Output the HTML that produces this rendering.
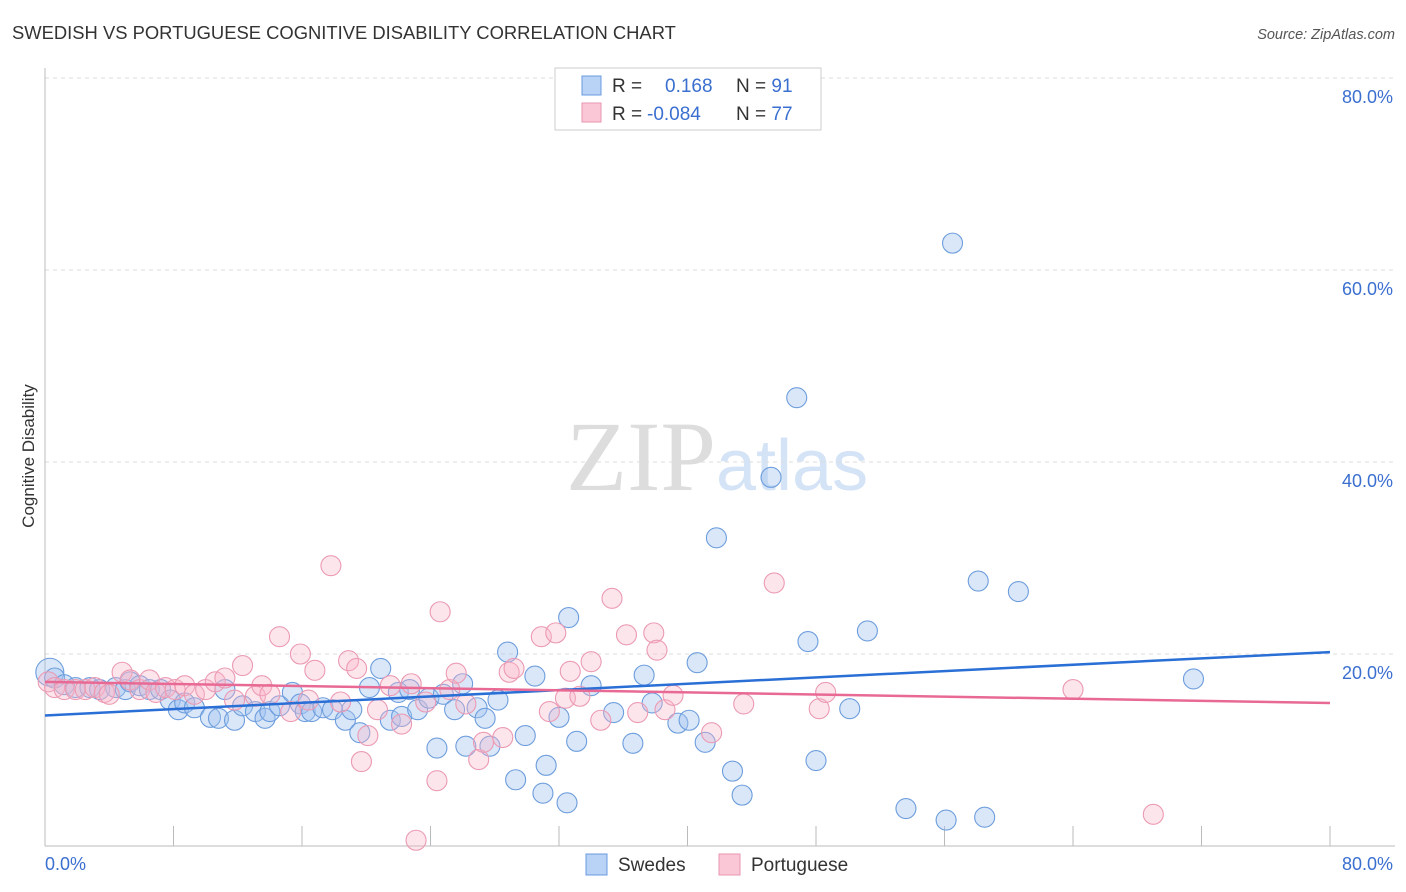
<!DOCTYPE html>
<html><head><meta charset="utf-8"><style>
body{margin:0;background:#fff;font-family:"Liberation Sans",sans-serif}
svg{display:block}
</style></head><body>
<svg width="1406" height="892" id="c">
<text x="12" y="39" font-size="18.4" fill="#333">SWEDISH VS PORTUGUESE COGNITIVE DISABILITY CORRELATION CHART</text>
<text x="1395" y="39" font-size="14.5" fill="#555" text-anchor="end" font-style="italic">Source: ZipAtlas.com</text>
<text x="716" y="490" font-size="100" fill="#ddd" text-anchor="end" font-family="Liberation Serif">ZIP</text>
<text x="716" y="490" font-size="72" fill="#d4e3f6">atlas</text>
<text transform="translate(34,456) rotate(-90)" font-size="17" fill="#333" text-anchor="middle">Cognitive Disability</text>
<g id="grid"></g><g id="pts"></g><g id="lines"></g>
<g>
<rect x="555" y="68" width="266" height="62" fill="#fff" stroke="#ccc"/>
<rect x="582" y="76" width="19" height="19" fill="#b8d3f5" stroke="#6a9be0"/>
<rect x="582" y="103" width="19" height="19" fill="#f9c7d5" stroke="#eb95b0"/>
<text x="612" y="92" font-size="19" fill="#333">R = <tspan x="665" fill="#3a6fd0">0.168</tspan><tspan x="736" fill="#333">N = </tspan><tspan fill="#3a6fd0">91</tspan></text>
<text x="612" y="120" font-size="19" fill="#333">R = <tspan x="647" fill="#3a6fd0">-0.084</tspan><tspan x="736" fill="#333">N = </tspan><tspan fill="#3a6fd0">77</tspan></text>
</g>
<g>
<rect x="586" y="854" width="21" height="21" fill="#b8d3f5" stroke="#6a9be0"/>
<text x="618" y="871" font-size="19" fill="#333">Swedes</text>
<rect x="719" y="854" width="21" height="21" fill="#f9c7d5" stroke="#eb95b0"/>
<text x="751" y="871" font-size="19" fill="#333">Portuguese</text>
</g>
</svg>
<script>
const yTicks=[20,40,60,80];
const xTickLabels=["0.0%","80.0%"];
const blueX=[0.3,0.6,1.2,1.9,2.8,3.4,4.4,5.0,5.3,5.9,6.5,7.2,7.8,8.3,8.7,9.3,10.3,10.8,11.2,11.8,12.3,13.1,13.7,14.0,14.6,15.4,15.9,16.2,16.6,17.3,17.9,18.7,19.1,19.6,20.2,20.9,21.5,22.0,22.2,22.7,23.2,23.9,24.4,24.8,25.5,26.0,26.2,26.9,27.4,27.7,28.2,28.8,29.3,29.9,30.5,31.0,31.2,32.0,32.5,32.6,33.1,34.0,35.4,36.6,37.3,37.8,39.4,40.1,40.6,41.1,41.8,42.8,43.4,45.2,46.8,47.5,48.0,50.1,51.2,53.6,56.1,56.5,58.1,58.5,60.6,71.5];
const blueY=[18.1,17.5,16.8,16.5,16.5,16.3,16.5,16.3,17.1,16.7,16.3,16.3,15.2,14.2,14.9,14.4,13.4,13.3,16.3,13.1,14.6,14.0,13.3,14.0,14.6,16.0,14.8,14.0,14.0,14.4,14.2,13.1,14.2,11.8,16.5,18.5,13.1,16.0,13.5,16.3,14.2,15.4,10.2,15.8,14.2,16.9,10.4,14.4,13.3,10.4,15.2,20.2,6.9,11.5,17.7,5.5,8.4,13.4,4.5,23.8,10.9,16.7,13.9,10.7,17.8,14.9,12.8,13.1,19.1,10.8,32.1,7.8,5.3,38.4,46.7,21.3,8.9,14.3,22.4,3.9,2.7,62.8,27.6,3.0,26.5,17.4];
const pinkX=[0.2,0.6,1.2,1.9,2.5,3.1,3.7,4.0,4.8,5.3,5.9,6.5,6.9,7.5,8.1,8.7,9.3,10.0,10.6,11.2,11.8,12.3,13.1,13.5,14.0,14.6,15.3,15.9,16.4,16.8,17.8,18.4,18.9,19.4,19.7,20.1,20.7,21.5,22.2,22.8,23.1,23.7,24.4,24.6,25.2,25.6,26.2,27.0,27.3,28.5,28.9,29.2,30.9,31.4,31.8,32.4,32.7,33.3,34.0,34.6,35.3,36.2,36.9,37.9,38.1,38.6,39.1,41.5,43.5,45.4,48.2,48.6,64.0,69.0];
const pinkY=[17.1,16.5,16.3,16.3,16.3,16.5,16.0,15.8,18.1,17.3,16.3,17.3,16.0,16.5,16.3,16.7,15.8,16.3,17.1,17.5,15.2,18.8,15.6,16.7,15.8,21.8,14.0,20.0,15.2,18.3,29.2,15.0,19.3,18.5,8.8,11.5,14.2,16.7,12.7,16.9,0.6,15.0,6.8,24.4,16.3,18.0,14.8,9.0,10.8,11.3,18.1,18.5,21.8,14.0,22.2,15.4,18.2,15.6,19.2,13.1,25.8,22.0,13.9,22.2,20.4,14.2,15.7,11.8,14.8,27.4,14.3,16.0,16.3,3.3];
const blueTrend=[13.6,20.2];
const pinkTrend=[17.1,14.9];
const X=v=>45+v/80*1285, Y=v=>846-v/20*192;
const NS="http://www.w3.org/2000/svg";
function mk(t,a,p){const e=document.createElementNS(NS,t);for(const k in a)e.setAttribute(k,a[k]);p.appendChild(e);return e;}
const g=document.getElementById('grid');
yTicks.forEach(t=>{
 const l=mk('line',{x1:45,x2:1395,y1:Y(t),y2:Y(t),stroke:'#ddd','stroke-dasharray':'4,4'},g);
 
 
 const tx=mk('text',{x:1393,y:Y(t)+25,'font-size':18,fill:'#3a6fd0','text-anchor':'end'},g);
 tx.textContent=t.toFixed(1)+'%';
 
 
});
const ax=mk('line',{x1:45,x2:45,y1:68,y2:846,stroke:'#bbb'},g);


const bx=mk('line',{x1:45,x2:1395,y1:846,y2:846,stroke:'#bbb'},g);


for(let i=1;i<=10;i++){const v=i*8;const t=mk('line',{x1:X(v),x2:X(v),y1:826,y2:846,stroke:'#bbb'},g);
 
 }
[0,80].forEach((v,i)=>{const t=mk('text',{x:i?1393:45,y:870,'font-size':18,fill:'#3a6fd0','text-anchor':i?'end':'start'},g);t.textContent=xTickLabels[i];
 
 });
const p=document.getElementById('pts');
blueX.forEach((v,i)=>{const c=mk('circle',{cx:X(v),cy:Y(blueY[i]),r:i==0?14:10,fill:'rgba(160,196,240,0.4)',stroke:'#6d9ddc','stroke-width':1.1},p);
 
 });
pinkX.forEach((v,i)=>{const c=mk('circle',{cx:X(v),cy:Y(pinkY[i]),r:10,fill:'rgba(248,180,200,0.35)',stroke:'#eb9ab3','stroke-width':1.1},p);
 
 });
const L=document.getElementById('lines');
const b=mk('line',{x1:X(0),x2:X(80),y1:Y(blueTrend[0]),y2:Y(blueTrend[1]),stroke:'#2a6fd6','stroke-width':2.5},L);


const q=mk('line',{x1:X(0),x2:X(80),y1:Y(pinkTrend[0]),y2:Y(pinkTrend[1]),stroke:'#e86a94','stroke-width':2.5},L);


</script>
</body></html>
